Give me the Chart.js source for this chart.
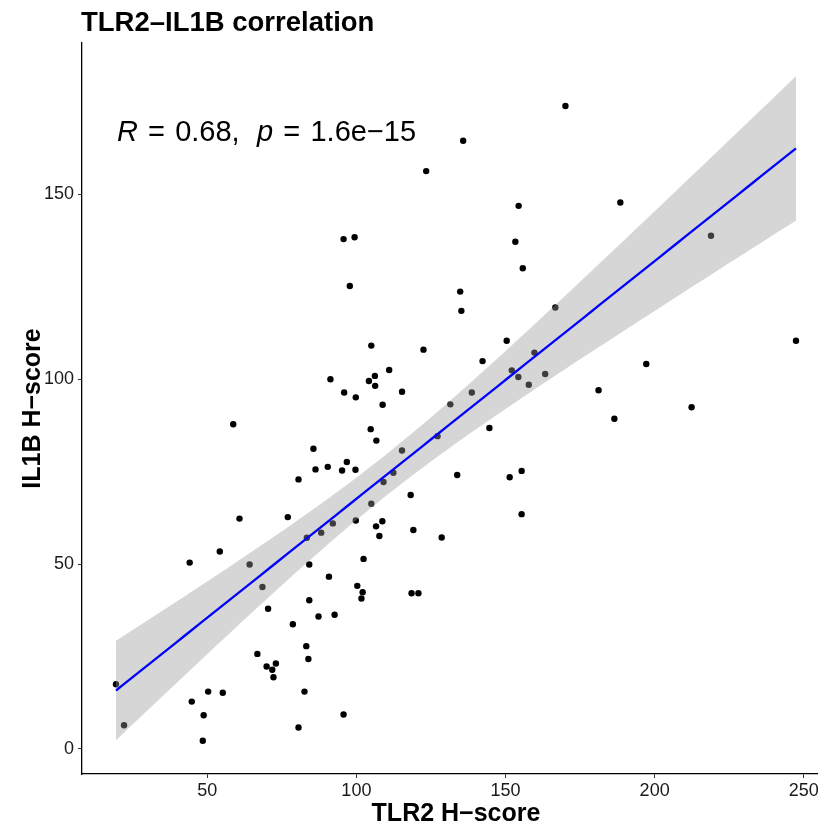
<!DOCTYPE html>
<html>
<head>
<meta charset="utf-8">
<script src="https://cdn.jsdelivr.net/npm/chart.js@4.4.1/dist/chart.umd.min.js"></script>
<style>
  html, body { margin: 0; padding: 0; background: #fff; overflow: hidden; }
  #wrap { width: 840px; height: 825px; position: relative; }
</style>
</head>
<body>
<div id="wrap"><canvas id="c"></canvas></div>
<script>
// H-scores per sample
const tlr2 = [19.4,22.1,44.1,44.8,48.5,48.8,50.3,54.2,55.2,58.7,60.8,64.2,66.8,68.5,69.9,70.4,71.8,73.0,72.2,77.0,
  78.7,80.6,80.6,82.6,83.4,83.2,83.9,84.2,84.2,85.6,86.3,87.3,88.2,90.4,90.8,91.3,92.1,92.7,95.7,95.2,
  95.7,95.9,96.8,97.8,99.4,99.7,99.8,99.8,100.3,101.7,102.1,102.4,105.0,104.2,105.0,104.8,106.3,106.7,106.2,106.6,
  107.7,108.7,108.8,109.1,111.0,112.4,115.3,115.3,118.2,118.5,119.1,120.8,122.5,123.4,127.2,128.6,131.5,133.8,134.8,135.2,
  135.8,138.7,142.3,144.6,150.4,151.4,152.1,153.3,154.3,154.4,155.4,155.4,155.8,157.8,159.7,163.3,166.7,170.1,181.2,186.5,
  188.5,197.2,212.4,218.9,247.4];
const il1b = [17.5,6.4,50.4,12.8,2.2,9.1,15.5,53.4,15.2,87.8,62.3,49.9,25.7,43.8,22.3,37.9,21.4,23.1,19.4,62.7,
  33.7,5.8,72.9,15.5,57.1,27.8,24.3,49.9,40.2,81.2,75.6,35.8,58.5,76.3,46.6,100.0,61.0,36.3,137.9,75.3,
  9.3,96.4,77.6,125.2,138.4,75.5,95.1,61.8,44.1,40.7,42.4,51.4,66.3,99.5,109.1,86.5,98.2,83.4,100.9,60.2,
  57.6,61.6,93.1,72.2,102.5,74.7,96.6,80.7,68.7,42.1,59.2,42.1,108.0,156.3,84.6,57.2,93.2,74.1,123.7,118.5,
  164.5,96.4,104.9,86.8,110.4,73.5,102.4,137.2,100.6,146.9,75.2,63.5,130.0,98.5,107.2,101.4,119.4,173.9,97.0,89.3,
  147.8,104.1,92.4,138.8,110.4];

const xTicks = [50, 100, 150, 200, 250];
const yTicks = [0, 50, 100, 150];
const corrR = '0.68';
const corrP = '1.6e\u221215';

const FONT = '"Liberation Sans", Arial, Helvetica, sans-serif';

// ---- linear fit + 95% confidence band ----
const n = tlr2.length;
const mx = tlr2.reduce((a, b) => a + b, 0) / n;
const my = il1b.reduce((a, b) => a + b, 0) / n;
let sxx = 0, sxy = 0;
for (let i = 0; i < n; i++) {
  sxx += (tlr2[i] - mx) ** 2;
  sxy += (tlr2[i] - mx) * (il1b[i] - my);
}
const slope = sxy / sxx;
const icept = my - slope * mx;
let sse = 0;
for (let i = 0; i < n; i++) sse += (il1b[i] - (icept + slope * tlr2[i])) ** 2;
const sRes = Math.sqrt(sse / (n - 2));
const tCrit = 1.983; // t(0.975, df ~ 103)

const xMin = Math.min(...tlr2), xMax = Math.max(...tlr2);
const fitPts = [], upPts = [], loPts = [];
for (let k = 0; k <= 80; k++) {
  const x = xMin + (xMax - xMin) * k / 80;
  const yh = icept + slope * x;
  const se = sRes * Math.sqrt(1 / n + (x - mx) ** 2 / sxx);
  fitPts.push({ x, y: yh });
  upPts.push({ x, y: yh + tCrit * se });
  loPts.push({ x, y: yh - tCrit * se });
}

// ggplot-style 5% expansion
function expand(lo, hi) { const r = hi - lo; return [lo - 0.05 * r, hi + 0.05 * r]; }
const xLim = expand(xMin, xMax);
const yLim = expand(
  Math.min(...il1b, ...loPts.map(p => p.y)),
  Math.max(...il1b, ...upPts.map(p => p.y))
);

const points = tlr2.map((x, i) => ({ x, y: il1b[i] }));

const decor = {
  id: 'decor',
  afterDraw(chart) {
    const { ctx, chartArea: ca, scales } = chart;
    ctx.save();
    ctx.fillStyle = '#000';
    // title
    ctx.font = 'bold 27.5px ' + FONT;
    ctx.textAlign = 'left';
    ctx.textBaseline = 'alphabetic';
    ctx.fillText('TLR2\u2013IL1B correlation', ca.left - 1, 31);

    // axis titles
    ctx.font = 'bold 25px ' + FONT;
    ctx.textAlign = 'center';
    ctx.fillText('TLR2 H\u2212score', (ca.left + ca.right) / 2, 821);
    ctx.save();
    ctx.translate(40, (ca.top + ca.bottom) / 2);
    ctx.rotate(-Math.PI / 2);
    ctx.fillText('IL1B H\u2212score', 0, 0);
    ctx.restore();

    // correlation label, plotmath-like spacing
    const fs = 29;
    let x = scales.x.getPixelForValue(xMin) + 1;
    const y = 141;
    ctx.textAlign = 'left';
    const runs = [
      ['italic', 'R', 0.35], ['', '=', 0.35], ['', corrR + ',', 0.6],
      ['italic', 'p', 0.35], ['', '=', 0.35], ['', corrP, 0]
    ];
    runs.forEach(([st, t, gap]) => {
      ctx.font = (st ? st + ' ' : '') + fs + 'px ' + FONT;
      ctx.fillText(t, x, y);
      x += ctx.measureText(t).width + gap * fs;
    });
    ctx.restore();
  }
};

const tickFont = { family: FONT, size: 18 };

new Chart(document.getElementById('c'), {
  type: 'scatter',
  data: {
    datasets: [
      { data: points, backgroundColor: '#000', borderWidth: 0, pointRadius: 3.2, order: 4 },
      { data: upPts, showLine: true, pointRadius: 0, borderWidth: 0, borderColor: 'transparent',
        backgroundColor: 'rgba(153,153,153,0.4)', fill: '+1', order: 3 },
      { data: loPts, showLine: true, pointRadius: 0, borderWidth: 0, borderColor: 'transparent',
        fill: false, order: 2 },
      { data: fitPts, showLine: true, pointRadius: 0, borderWidth: 2.3, borderColor: '#0000ff',
        fill: false, order: 1 }
    ]
  },
  options: {
    responsive: true,
    maintainAspectRatio: false,
    animation: false,
    layout: { padding: { top: 43, right: 10, left: 0, bottom: 0 } },
    plugins: { legend: { display: false }, tooltip: { enabled: false }, title: { display: false } },
    scales: {
      x: {
        type: 'linear', min: xLim[0], max: xLim[1],
        afterBuildTicks: s => { s.ticks = xTicks.map(v => ({ value: v })); },
        afterFit: s => { s.height = 51; },
        ticks: { font: tickFont, color: '#1a1a1a', padding: 2, autoSkip: false, maxRotation: 0 },
        grid: { drawOnChartArea: false, drawTicks: true, tickLength: 4, color: '#333', lineWidth: 1 },
        border: { display: true, color: '#000', width: 1.3 }
      },
      y: {
        type: 'linear', min: yLim[0], max: yLim[1],
        afterBuildTicks: s => { s.ticks = yTicks.map(v => ({ value: v })); },
        afterFit: s => { s.width = 82; },
        ticks: { font: tickFont, color: '#1a1a1a', padding: 4, autoSkip: false },
        grid: { drawOnChartArea: false, drawTicks: true, tickLength: 4, color: '#333', lineWidth: 1 },
        border: { display: true, color: '#000', width: 1.3 }
      }
    }
  },
  plugins: [decor]
});
</script>
</body>
</html>
